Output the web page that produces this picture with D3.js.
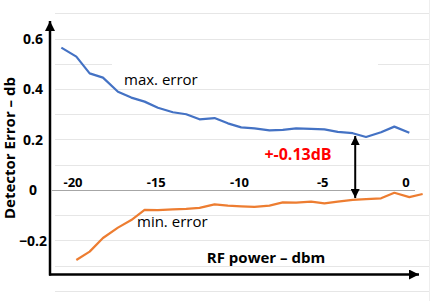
<!DOCTYPE html>
<html>
<head>
<meta charset="utf-8">
<script src="https://cdn.jsdelivr.net/npm/d3@7"></script>
<style>
  html, body { margin: 0; padding: 0; background: #fff; }
  svg { display: block; font-family: "Open Sans", "Noto Sans", sans-serif; }
</style>
</head>
<body>
<svg id="chart" width="432" height="301"></svg>
<script>
// ---- data ----
const maxX = [-20.7, -19.8, -19.0, -18.2, -17.3, -16.5, -15.7, -14.9, -14.0, -13.2, -12.4, -11.5, -10.7, -9.9, -9.1, -8.2, -7.4, -6.6, -5.7, -4.9, -4.1, -3.2, -2.4, -1.5, -0.7, 0.2];
const maxErr = [0.564, 0.528, 0.462, 0.445, 0.389, 0.366, 0.350, 0.326, 0.308, 0.300, 0.280, 0.285, 0.264, 0.248, 0.244, 0.236, 0.238, 0.244, 0.242, 0.240, 0.230, 0.225, 0.210, 0.229, 0.251, 0.227];
const minX = [-19.8, -19.0, -18.2, -17.3, -16.5, -15.7, -14.9, -14.0, -13.2, -12.4, -11.5, -10.7, -9.9, -9.1, -8.2, -7.4, -6.6, -5.7, -4.9, -4.1, -3.2, -2.4, -1.5, -0.7, 0.2, 1.0];
const minErr = [-0.277, -0.244, -0.190, -0.149, -0.119, -0.079, -0.080, -0.077, -0.075, -0.071, -0.057, -0.062, -0.065, -0.067, -0.062, -0.049, -0.050, -0.046, -0.053, -0.046, -0.039, -0.036, -0.033, -0.011, -0.028, -0.016];
const xTicks = [-20, -15, -10, -5, 0];
const yTicks = [0.6, 0.4, 0.2, 0, -0.2];
const gridVals = [0.7, 0.6, 0.5, 0.4, 0.3, 0.2, 0.1, -0.1, -0.2, -0.3, -0.4];
const spanMark = [-3.05, 0.214, -0.032]; // x position, top value, bottom value of the double arrow
const labels = { yTitle: "Detector Error \u2013 db", xTitle: "RF power \u2013 dbm", max: "max. error", min: "min. error", span: "+-0.13dB" };

// ---- scales ----
const x = d3.scaleLinear().domain([-20, 0]).range([73, 406]);
const y = d3.scaleLinear().domain([-0.4, 0.7]).range([291, 13.25]);

const svg = d3.select("#chart");

const defs = svg.append("defs");
defs.append("marker").attr("id", "ah").attr("viewBox", "0 0 10 10")
  .attr("refX", 10).attr("refY", 5).attr("markerWidth", 10).attr("markerHeight", 10)
  .attr("markerUnits", "userSpaceOnUse").attr("orient", "auto-start-reverse")
  .append("path").attr("d", "M0,0 L10,5 L0,10 Z").attr("fill", "#000");
defs.append("marker").attr("id", "ah2").attr("viewBox", "0 0 10 10")
  .attr("refX", 10).attr("refY", 5).attr("markerWidth", 12).attr("markerHeight", 9)
  .attr("markerUnits", "userSpaceOnUse").attr("orient", "auto-start-reverse")
  .append("path").attr("d", "M0,0 L10,5 L0,10 Z").attr("fill", "#000");

// gridlines
svg.append("g").selectAll("line").data(gridVals).join("line")
  .attr("x1", 55).attr("x2", 429)
  .attr("y1", d => Math.round(y(d)) + 0.5).attr("y2", d => Math.round(y(d)) + 0.5)
  .attr("stroke", "#e6e6e6").attr("stroke-width", 1);
// right border line
svg.append("line").attr("x1", 429.5).attr("x2", 429.5).attr("y1", 0).attr("y2", 301)
  .attr("stroke", "#eeeeee");
// white patch hiding part of the 0.5 gridline
svg.append("rect").attr("x", 112).attr("y", y(0.5) - 4).attr("width", 266).attr("height", 8).attr("fill", "#fff");

// zero line
svg.append("line").attr("x1", 52).attr("x2", 415)
  .attr("y1", Math.round(y(0)) + 0.5).attr("y2", Math.round(y(0)) + 0.5)
  .attr("stroke", "#a6a6a6").attr("stroke-width", 1);

// series
const line = d3.line().x(d => x(d[0])).y(d => y(d[1]));
svg.append("path").datum(maxX.map((v, i) => [v, maxErr[i]]))
  .attr("d", line).attr("fill", "none").attr("stroke", "#4472C4").attr("stroke-width", 2.2)
  .attr("stroke-linejoin", "round");
svg.append("path").datum(minX.map((v, i) => [v, minErr[i]]))
  .attr("d", line).attr("fill", "none").attr("stroke", "#ED7D31").attr("stroke-width", 2.2)
  .attr("stroke-linejoin", "round");

// axes lines with arrows
svg.append("line").attr("x1", 50).attr("x2", 50).attr("y1", 275.5).attr("y2", 21)
  .attr("stroke", "#000").attr("stroke-width", 2.5).attr("marker-end", "url(#ah)");
svg.append("line").attr("x1", 49).attr("x2", 419).attr("y1", 274.5).attr("y2", 274.5)
  .attr("stroke", "#000").attr("stroke-width", 2.5).attr("marker-end", "url(#ah)");

// y tick labels
svg.append("g").selectAll("text").data(yTicks).join("text")
  .attr("x", 33).attr("y", d => y(d)).attr("dy", "0.36em")
  .attr("text-anchor", "middle").attr("font-size", 14).attr("font-weight", "bold")
  .text(d => d === 0 ? "0" : d3.format(".1f")(d));

// x tick labels
svg.append("g").selectAll("text").data(xTicks).join("text")
  .attr("x", d => x(d)).attr("y", 187)
  .attr("text-anchor", "middle").attr("font-size", 13).attr("font-weight", "bold")
  .text(d => d);

// axis titles
svg.append("text").attr("transform", "translate(15,148) rotate(-90)")
  .attr("text-anchor", "middle").attr("font-size", 15).attr("font-weight", "bold")
  .text(labels.yTitle);
svg.append("text").attr("x", 266).attr("y", 263)
  .attr("text-anchor", "middle").attr("font-size", 15).attr("font-weight", "bold")
  .text(labels.xTitle);

// series labels
svg.append("text").attr("x", 124).attr("y", 85).attr("font-size", 15).text(labels.max);
svg.append("text").attr("x", 137).attr("y", 227).attr("font-size", 15).text(labels.min);

// span annotation
svg.append("line").attr("x1", x(spanMark[0])).attr("x2", x(spanMark[0]))
  .attr("y1", y(spanMark[1])).attr("y2", y(spanMark[2]))
  .attr("stroke", "#000").attr("stroke-width", 2)
  .attr("marker-start", "url(#ah2)").attr("marker-end", "url(#ah2)");
svg.append("text").attr("x", 298).attr("y", 160).attr("text-anchor", "middle")
  .attr("font-size", 16).attr("font-weight", "bold").attr("fill", "#ff0000")
  .text(labels.span);
</script>
</body>
</html>
